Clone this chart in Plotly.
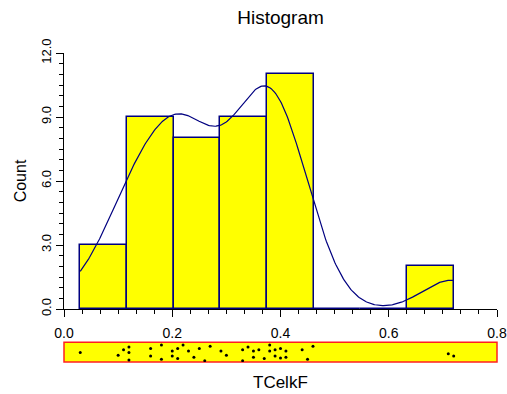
import numpy as np
import plotly.graph_objects as go

# Observed TCelkF values (one per sample)
tcelkf = [0.03, 0.10, 0.11, 0.12, 0.12, 0.12, 0.16, 0.16, 0.18, 0.18,
          0.20, 0.20, 0.21, 0.21, 0.22, 0.23, 0.24, 0.25, 0.26, 0.27,
          0.29, 0.30, 0.33, 0.33, 0.34, 0.35, 0.35, 0.36, 0.37, 0.38,
          0.38, 0.39, 0.39, 0.40, 0.40, 0.41, 0.41, 0.44, 0.45, 0.46,
          0.71, 0.72]
# Vertical scatter of each value inside the dot strip (0 = bottom, 1 = top)
strip_jitter = [0.483, 0.345, 0.621, 0.759, 0.483, 0.103, 0.690, 0.310, 0.862, 0.138,
                0.552, 0.310, 0.690, 0.172, 0.862, 0.552, 0.241, 0.690, 0.069, 0.793,
                0.552, 0.345, 0.621, 0.069, 0.759, 0.552, 0.241, 0.621, 0.172, 0.862,
                0.552, 0.621, 0.310, 0.690, 0.207, 0.552, 0.241, 0.621, 0.138, 0.793,
                0.414, 0.310]
n_bins = 8
kde_bandwidth = 0.053
x_ticks = [0.0, 0.2, 0.4, 0.6, 0.8]
y_ticks = [0.0, 3.0, 6.0, 9.0, 12.0]

data = np.array(tcelkf)
counts, edges = np.histogram(data, bins=n_bins, range=(data.min(), data.max()))
width = edges[1] - edges[0]
centers = (edges[:-1] + edges[1:]) / 2

# Gaussian kernel density over the data range, rescaled so its area
# equals the total histogram area (count x bin width)
grid = np.linspace(data.min(), data.max(), 400)
u = (grid[:, None] - data[None, :]) / kde_bandwidth
dens = np.exp(-u ** 2 / 2).sum(axis=1)
area = np.sum((dens[1:] + dens[:-1]) / 2 * np.diff(grid))
dens = dens / area * len(data) * width

NAVY = "#000080"
FONT = "Liberation Sans, Arial, sans-serif"

fig = go.Figure()
fig.add_trace(go.Bar(x=centers, y=counts, width=width,
                     marker=dict(color="#FFFF00", line=dict(color=NAVY, width=1.5)),
                     xaxis="x", yaxis="y"))
fig.add_trace(go.Scatter(x=grid, y=dens, mode="lines",
                         line=dict(color=NAVY, width=1.2), xaxis="x", yaxis="y"))
fig.add_trace(go.Scatter(x=tcelkf, y=strip_jitter, mode="markers",
                         marker=dict(color="black", size=3),
                         xaxis="x2", yaxis="y2"))

main_bottom = 0.1715
strip_top = 0.0638

fig.update_layout(
    width=507, height=394,
    margin=dict(l=64, r=10, t=53, b=32),
    paper_bgcolor="white", plot_bgcolor="white",
    showlegend=False, bargap=0,
    font=dict(family=FONT, size=13, color="black"),
    title=dict(text="Histogram", xref="paper", x=0.5, xanchor="center",
               y=0.956, yanchor="middle", font=dict(size=19, family=FONT)),
    xaxis=dict(domain=[0, 1], range=[0, 0.8], anchor="y", automargin=False,
               tickvals=x_ticks, tickformat=".1f", tickfont=dict(size=14),
               ticks="outside", ticklen=7, tickcolor="black",
               ticklabelstandoff=4,
               showline=True, linecolor="black", linewidth=1,
               showgrid=False, zeroline=False,
               minor=dict(dtick=0.2 / 6, ticks="outside", ticklen=4,
                          tickcolor="black", showgrid=False)),
    yaxis=dict(domain=[main_bottom, 1], range=[0, 12], anchor="x", automargin=False,
               tickvals=y_ticks, tickformat=".1f", tickangle=-90,
               tickfont=dict(size=13),
               ticks="outside", ticklen=7, tickcolor="black",
               showline=True, linecolor="black", linewidth=1,
               showgrid=False, zeroline=False,
               title=dict(text="Count", standoff=8, font=dict(size=16)),
               minor=dict(dtick=0.5, ticks="outside", ticklen=4,
                          tickcolor="black", showgrid=False)),
    xaxis2=dict(domain=[0, 1], range=[0, 0.8], anchor="y2", automargin=False,
                showticklabels=False, ticks="", showline=False,
                showgrid=False, zeroline=False),
    yaxis2=dict(domain=[0, strip_top], range=[0, 1], anchor="x2", automargin=False,
                showticklabels=False, ticks="", showline=False,
                showgrid=False, zeroline=False),
    shapes=[dict(type="rect", xref="paper", yref="paper",
                 x0=0, x1=1, y0=0, y1=strip_top,
                 fillcolor="#FFFF00", line=dict(color="#FF2020", width=1.5),
                 layer="below")],
    annotations=[dict(text="TCelkF", xref="paper", yref="paper",
                      x=0.5, y=-0.066, xanchor="center", yanchor="middle",
                      showarrow=False, font=dict(size=17, family=FONT))],
)

fig.write_html("out.html")
